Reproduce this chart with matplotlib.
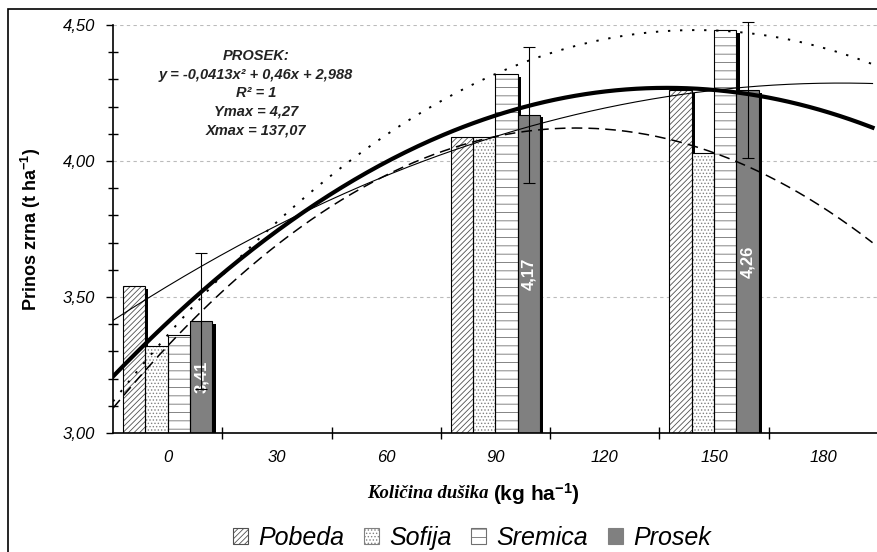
import numpy as np
import matplotlib
matplotlib.use('Agg')
import matplotlib.pyplot as plt
from matplotlib.patches import Patch, Rectangle

plt.rcParams['font.family'] = ['Liberation Sans', 'DejaVu Sans']
plt.rcParams['mathtext.fontset'] = 'custom'
plt.rcParams['mathtext.rm'] = 'Liberation Sans:bold'
plt.rcParams['mathtext.it'] = 'Liberation Sans:bold:italic'
plt.rcParams['hatch.linewidth'] = 0.6

# data
dose_labels = ['0', '30', '60', '90', '120', '150', '180']
bar_groups = [0, 3, 5]          # category index of doses 0, 90, 150
pobeda = [3.54, 4.09, 4.26]
sofija = [3.32, 4.09, 4.03]
sremica = [3.36, 4.32, 4.48]
prosek = [3.41, 4.17, 4.26]
prosek_err = [0.25, 0.25, 0.25]
prosek_coef = [-0.0413, 0.46, 2.988]   # x = category index + 1

series = [
    ('Pobeda', pobeda, 'white', '#505050', '//////'),
    ('Sofija', sofija, 'white', '#808080', '.....'),
    ('Sremica', sremica, 'white', '#707070', '--'),
    ('Prosek', prosek, '#808080', '#808080', None),
]

fig = plt.figure(figsize=(8.78, 5.52), dpi=100)
ax = fig.add_axes([113 / 878, 1 - 433 / 552, 1 - 113 / 878, (433 - 25) / 552])

xg = np.array(bar_groups, dtype=float)
w = 0.205
offsets = [-1.5 * w, -0.5 * w, 0.5 * w, 1.5 * w]

# shadows first, then bars over them
for k, (name, vals, fc, hc, hatch) in enumerate(series):
    ax.bar(xg + offsets[k] + w / 2 + 0.014, np.array(vals) - 3.0 - 0.01, width=0.03,
           bottom=3.0, color='black', linewidth=0, zorder=1)
for k, (name, vals, fc, hc, hatch) in enumerate(series):
    ax.bar(xg + offsets[k], np.array(vals) - 3.0, width=w, bottom=3.0,
           facecolor=fc, edgecolor=hc, hatch=hatch, linewidth=0, zorder=2)
    ax.bar(xg + offsets[k], np.array(vals) - 3.0, width=w, bottom=3.0,
           fill=False, edgecolor='black', linewidth=0.8, zorder=3)

# error bars on Prosek
eb = ax.errorbar(xg + offsets[3], prosek, yerr=prosek_err, fmt='none', ecolor='black',
                 elinewidth=0.8, capsize=4, capthick=0.8, zorder=6)
for a in eb.lines[1] + eb.lines[2]:
    a.set_clip_on(False)

# value labels on Prosek bars
for xi, v in zip(xg + offsets[3], prosek):
    ax.text(xi, (v + 3.0) / 2, f'{v:.2f}'.replace('.', ','), rotation=90,
            ha='center', va='center', color='white', fontsize=12,
            fontweight='bold', zorder=4)

# trend lines
xs = np.linspace(-0.5, 6.45, 300)
for name, vals, ls, lw in [('Pobeda', pobeda, '-', 0.8),
                           ('Sofija', sofija, (0, (7, 4)), 1.1),
                           ('Sremica', sremica, (0, (1.2, 5)), 1.4)]:
    c = np.polyfit(xg, vals, 2)
    ax.plot(xs, np.polyval(c, xs), color='black', linestyle=ls, linewidth=lw, zorder=5)
ax.plot(xs, np.polyval(prosek_coef, xs + 1), color='black', linewidth=3.0, zorder=5)

# equation
eq_lines = ['PROSEK:', 'y = -0,0413x² + 0,46x + 2,988', 'R² = 1', 'Ymax = 4,27', 'Xmax = 137,07']
for i, s in enumerate(eq_lines):
    ax.text(0.81, 4.385 - i * 0.068, s, ha='center', va='center', fontsize=10.5,
            fontweight='bold', fontstyle='italic', color='#222222', zorder=7)

# axes
ax.set_xlim(-0.5, 6.41)
ax.set_ylim(3.0, 4.5)
ax.set_xticks(np.arange(0.5, 7, 1))
ax.set_xticklabels([])
ax.set_xticks(np.arange(0, 7), minor=True)
ax.set_xticklabels(dose_labels, minor=True, fontstyle='italic', fontsize=12)
ax.tick_params(axis='x', which='major', direction='inout', length=9, width=1)
ax.tick_params(axis='x', which='minor', length=0, pad=12)
ax.set_yticks([3.0, 3.5, 4.0, 4.5])
ax.set_yticklabels(['3,00', '3,50', '4,00', '4,50'], fontstyle='italic', fontsize=12)
ax.set_yticks(np.arange(3.1, 4.5, 0.1), minor=True)
ax.tick_params(axis='y', which='major', direction='out', length=5, width=1, pad=8)
ax.tick_params(axis='y', which='minor', direction='inout', length=7, width=1)
ax.grid(axis='y', which='major', linestyle=(0, (3, 3)), color='#bbbbbb', linewidth=0.8)
ax.set_axisbelow(True)
for side in ['top', 'right']:
    ax.spines[side].set_visible(False)
for side in ['left', 'bottom']:
    ax.spines[side].set_linewidth(1.2)

ax.set_ylabel('Prinos zrna (t ha$^{-1}$)', fontsize=13, fontweight='bold', labelpad=14)
t1 = fig.text(367 / 878, 1 - 494 / 552, 'Količina dušika ', family='Liberation Serif',
              fontsize=13.5, fontweight='bold', fontstyle='italic', va='center', ha='left')
ax.annotate('(kg ha$^{-1}$)', xy=(1, 0.5), xycoords=t1, va='center', ha='left',
            fontsize=15, fontweight='bold', annotation_clip=False)

handles = [Patch(facecolor=fc, edgecolor=hc, hatch=hatch, linewidth=0.8)
           for name, vals, fc, hc, hatch in series]
fig.legend(handles, [s[0] for s in series], loc='center', bbox_to_anchor=(472 / 878, 1 - 538 / 552),
           ncol=4, frameon=False, prop={'size': 18, 'style': 'italic'},
           handlelength=0.6, handleheight=0.6, handletextpad=0.4, columnspacing=0.8)

fig.add_artist(Rectangle((8 / 878, -0.1), 1.2, 1.1 - 9 / 552 + 0.0, transform=fig.transFigure,
                         fill=False, edgecolor='black', linewidth=1.2))

fig.savefig('out.png', dpi=100)
